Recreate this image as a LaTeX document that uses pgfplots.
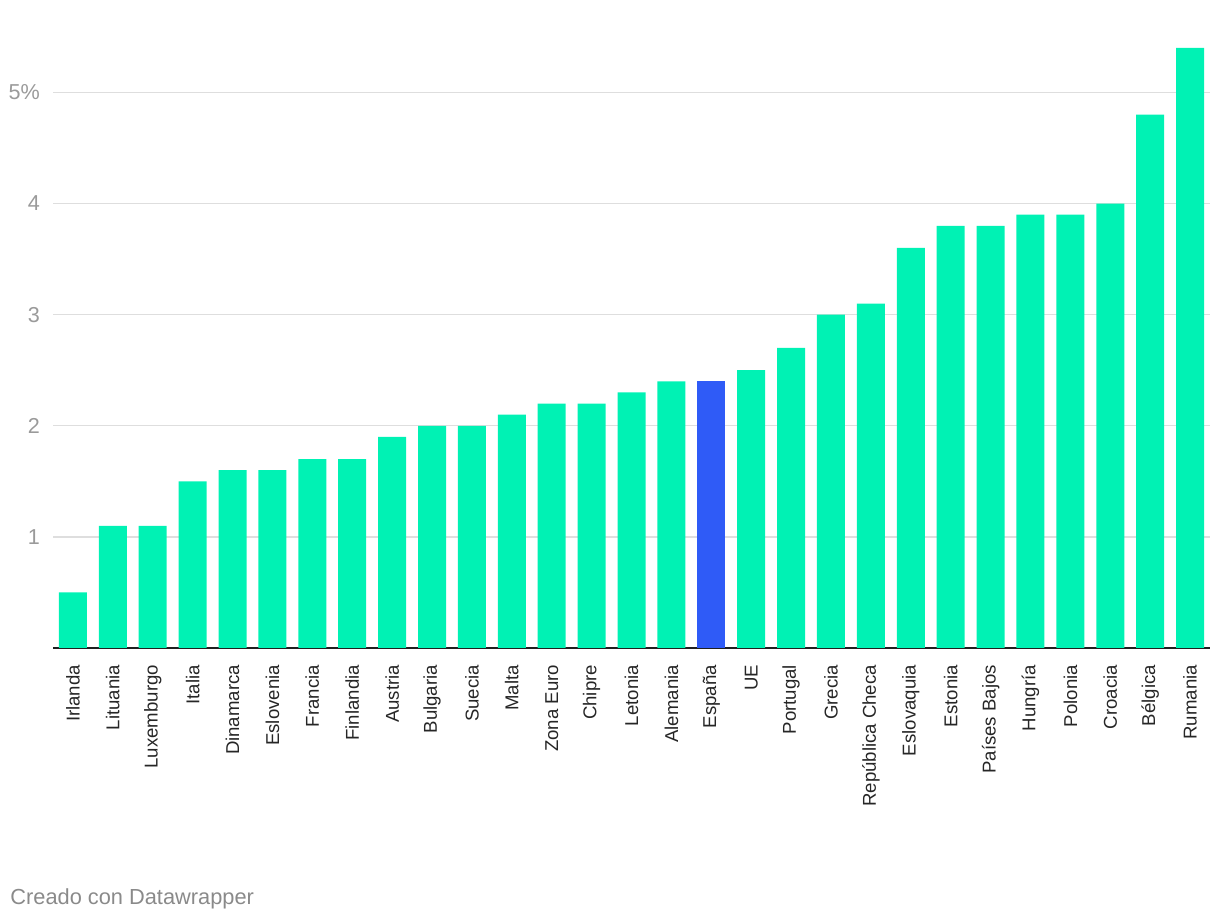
\documentclass[border=0pt]{standalone}
\usepackage{fontspec}
\setmainfont{Liberation Sans}
\usepackage{pgfplots}
\pgfplotsset{compat=1.18}
\definecolor{bargreen}{HTML}{00F2B4}
\definecolor{barblue}{HTML}{2F5BF7}
\definecolor{gridgray}{HTML}{DEDEDE}
\definecolor{ticktext}{HTML}{9A9A9A}
\definecolor{foot}{HTML}{8A8A8A}
\begin{document}
\begin{tikzpicture}[x=1pt,y=1pt]
\path[use as bounding box] (-26.5,-138) rectangle (583.5,324);
\begin{axis}[
  at={(0,0)}, anchor=south west,
  scale only axis, width=578.5pt, height=300pt,
  xmin=-0.5, xmax=28.5, ymin=0, ymax=5.4,
  axis x line=bottom, axis y line=left,
  x axis line style={-, line width=1pt, color=black!88},
  y axis line style={draw=none},
  major tick length=0pt,
  ymajorgrids, grid style={gridgray, line width=0.7pt},
  ytick={1,2,3,4,5}, yticklabels={1,2,3,4,5\%},
  yticklabel style={font=\fontsize{10.8}{12}\selectfont, text=ticktext, anchor=east},
  yticklabel shift=3pt,
  xtick={0,...,28},
  xticklabels={Irlanda,Lituania,Luxemburgo,Italia,Dinamarca,Eslovenia,Francia,Finlandia,Austria,Bulgaria,Suecia,Malta,Zona Euro,Chipre,Letonia,Alemania,España,UE,Portugal,Grecia,República Checa,Eslovaquia,Estonia,Países Bajos,Hungría,Polonia,Croacia,Bélgica,Rumania},
  xticklabel style={rotate=90, anchor=east, font=\fontsize{9.3}{10}\selectfont, text=black!85},
  xticklabel shift=5pt,
  ybar, bar width=14pt,
  clip=false,
]
\addplot[ybar, bar shift=0pt, fill=bargreen, draw=none] coordinates {
(0,0.5) (1,1.1) (2,1.1) (3,1.5) (4,1.6) (5,1.6) (6,1.7) (7,1.7) (8,1.9) (9,2.0)
(10,2.0) (11,2.1) (12,2.2) (13,2.2) (14,2.3) (15,2.4) (17,2.5) (18,2.7) (19,3.0)
(20,3.1) (21,3.6) (22,3.8) (23,3.8) (24,3.9) (25,3.9) (26,4.0) (27,4.8) (28,5.4)
};
\addplot[ybar, bar shift=0pt, fill=barblue, draw=none] coordinates {(16,2.4)};
\end{axis}
\node[anchor=base west, inner sep=0pt, font=\fontsize{10.9}{12}\selectfont, text=foot] at (-21.5,-128.5) {Creado con Datawrapper};
\end{tikzpicture}
\end{document}
